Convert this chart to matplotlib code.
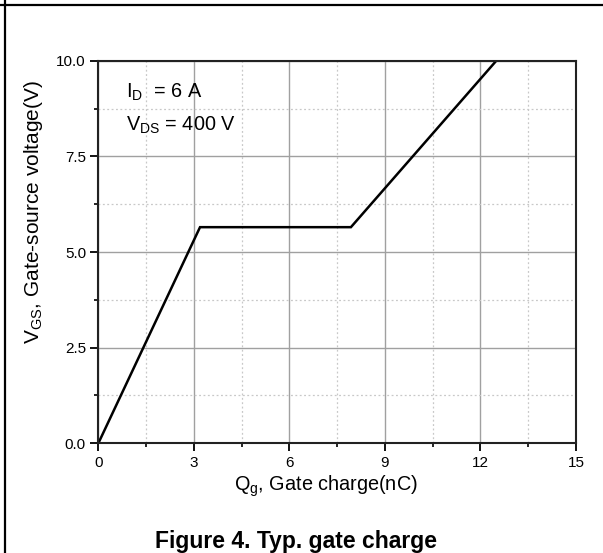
import matplotlib.pyplot as plt
from matplotlib.lines import Line2D
from matplotlib.ticker import MultipleLocator

plt.rcParams['font.family'] = ['Liberation Sans', 'DejaVu Sans']
plt.rcParams['mathtext.fontset'] = 'custom'
plt.rcParams['mathtext.rm'] = 'Liberation Sans'
plt.rcParams['mathtext.it'] = 'Liberation Sans'

# gate charge curve
qg = [0, 3.19, 7.93, 12.49]
vgs = [0, 5.65, 5.65, 10.0]

xticks = [0, 3, 6, 9, 12, 15]
yticks = [0.0, 2.5, 5.0, 7.5, 10.0]

fig = plt.figure(figsize=(6.03, 5.53), dpi=100)
ax = fig.add_axes([0.1633, 0.1989, 0.7919, 0.6908])

ax.plot(qg, vgs, color='black', lw=1.8, solid_joinstyle='miter')

ax.set_xlim(0, 15)
ax.set_ylim(0, 10)
ax.set_xticks(xticks)
ax.set_yticks(yticks)
ax.set_yticklabels(['%.1f' % v for v in yticks])
ax.xaxis.set_minor_locator(MultipleLocator(1.5))
ax.yaxis.set_minor_locator(MultipleLocator(1.25))

ax.grid(which='major', color='#a0a0a0', lw=1.0, ls='-')
ax.grid(which='minor', color='#c8c8c8', lw=0.9, ls=(0, (1.5, 2)))
ax.set_axisbelow(True)

ax.tick_params(which='major', direction='out', length=6, width=1.3, labelsize=11, pad=3)
ax.tick_params(which='minor', direction='out', length=3, width=1.2)
for s in ax.spines.values():
    s.set_linewidth(1.5)
    s.set_color('#222222')

ax.set_xlabel(r'Q$_\mathregular{g}$, Gate charge(nC)', fontsize=14.3)
ax.xaxis.set_label_coords(0.476, -0.08, transform=ax.transAxes)
ax.xaxis.label.set_va('top')
ax.set_ylabel(r'V$_\mathregular{GS}$, Gate-source voltage(V)', fontsize=15)
ax.yaxis.set_label_coords(-0.137, 0.605, transform=ax.transAxes)
ax.yaxis.label.set_va('center')

ax.text(0.058, 0.945, r'I$_\mathregular{D}$  = 6 A', transform=ax.transAxes,
        fontsize=14.3, va='top', ha='left')
ax.text(0.058, 0.86, r'V$_\mathregular{DS}$ = 400 V', transform=ax.transAxes,
        fontsize=14.3, va='top', ha='left')

fig.text(0.491, 0.009, 'Figure 4. Typ. gate charge', fontsize=16.5,
         fontweight='bold', ha='center', va='baseline')

# frame lines of the page table (top and left only)
fig.add_artist(Line2D([0, 1], [1 - 5 / 553, 1 - 5 / 553], transform=fig.transFigure,
                      color='black', lw=1.6))
fig.add_artist(Line2D([4.5 / 603, 4.5 / 603], [0, 1], transform=fig.transFigure,
                      color='black', lw=1.6))

fig.savefig('out.png', dpi=100)
